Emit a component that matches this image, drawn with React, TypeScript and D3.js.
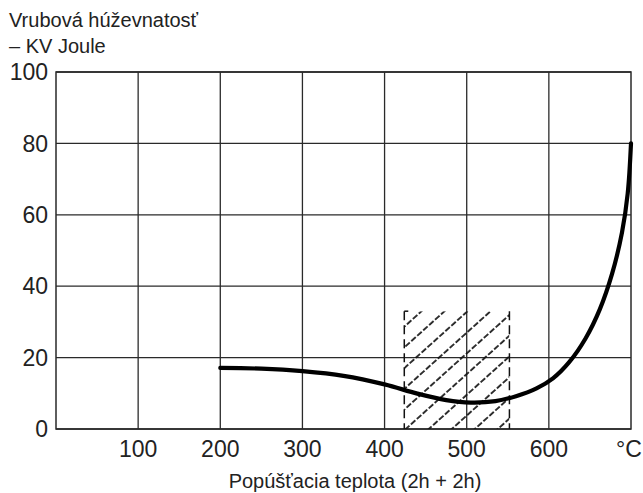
import React from "react";
import * as d3 from "d3";

const xTicks = [100, 200, 300, 400, 500, 600];
const yTicks = [0, 20, 40, 60, 80, 100];
const temps = [200, 250, 300, 350, 400, 440, 475, 505, 535, 560, 585, 605, 625, 645, 662, 677, 689, 696, 700];
const values = [17.1, 16.9, 16.2, 14.9, 12.5, 9.9, 8.1, 7.4, 7.8, 9.2, 11.4, 14.2, 18.8, 25.5, 33.5, 43.5, 55, 66, 80];
const hatchRange = [424, 552];
const hatchTop = 33;
const titleLines = ["Vrubová húževnatosť", "– KV Joule"];
const xTitle = "Popúšťacia teplota (2h + 2h)";
const unitLabel = "°C";

const W = 643, H = 493;
const FONT = "'Liberation Sans', Arial, Helvetica, sans-serif";

export default function App() {
  const x = d3.scaleLinear().domain([0, 700]).range([56, 631]);
  const y = d3.scaleLinear().domain([0, 100]).range([429, 72]);
  const line = d3
    .line<number>()
    .x((_, i) => x(temps[i]))
    .y((d) => y(d))
    .curve(d3.curveCatmullRom.alpha(0.5));
  const gridColor = "#2a2a2a";
  const hx0 = x(hatchRange[0]);
  const hx1 = x(hatchRange[1]);
  const hy0 = y(hatchTop);
  const hy1 = y(0);
  return (
    <svg width={W} height={H} style={{ position: "absolute", left: 0, top: 0, background: "#fff" }} fontFamily={FONT}>
      <defs>
        <pattern id="hatch" patternUnits="userSpaceOnUse" width={8} height={15.4} patternTransform={`translate(${hx0},${hy1}) rotate(-42)`}>
          <line x1={0} y1={1} x2={8} y2={1} stroke="#111" strokeWidth={1.7} strokeDasharray="6 2" />
        </pattern>
        <clipPath id="hclip">
          <rect x={hx0} y={hy0} width={hx1 - hx0} height={hy1 - hy0} />
        </clipPath>
      </defs>
      {xTicks.map((t) => (
        <line key={"gx" + t} x1={x(t)} x2={x(t)} y1={y(0)} y2={y(100)} stroke={gridColor} strokeWidth={1.3} />
      ))}
      {yTicks.map((t) => (
        <line key={"gy" + t} x1={x(0)} x2={x(700)} y1={y(t)} y2={y(t)} stroke={gridColor} strokeWidth={1.3} />
      ))}
      <rect x={x(0)} y={y(100)} width={x(700) - x(0)} height={y(0) - y(100)} fill="none" stroke={gridColor} strokeWidth={1.5} />
      <rect x={hx0} y={hy0} width={hx1 - hx0} height={hy1 - hy0} fill="url(#hatch)" clipPath="url(#hclip)" />
      <line x1={hx0} x2={hx0} y1={hy0} y2={hy1} stroke="#111" strokeWidth={1.5} strokeDasharray="9 5" />
      <line x1={hx1} x2={hx1} y1={hy0} y2={hy1} stroke="#111" strokeWidth={1.5} strokeDasharray="9 5" />
      <line x1={hx0} x2={hx0 + 4} y1={hy0} y2={hy0} stroke="#111" strokeWidth={1.5} />
      <path d={line(values) || ""} fill="none" stroke="#000" strokeWidth={4.2} strokeLinecap="round" />
      {yTicks.map((t) => (
        <text key={"yl" + t} x={48} y={y(t)} dy="0.36em" textAnchor="end" fontSize={23} fill="#222">
          {t}
        </text>
      ))}
      {xTicks.map((t) => (
        <text key={"xl" + t} x={x(t)} y={457} textAnchor="middle" fontSize={23} fill="#222">
          {t}
        </text>
      ))}
      <text x={629} y={457} textAnchor="middle" fontSize={23} fill="#222">
        {unitLabel}
      </text>
      {titleLines.map((s, i) => (
        <text key={"t" + i} x={9} y={27 + i * 26} fontSize={20} fill="#222">
          {s}
        </text>
      ))}
      <text x={355} y={488} textAnchor="middle" fontSize={20} fill="#222">
        {xTitle}
      </text>
    </svg>
  );
}
